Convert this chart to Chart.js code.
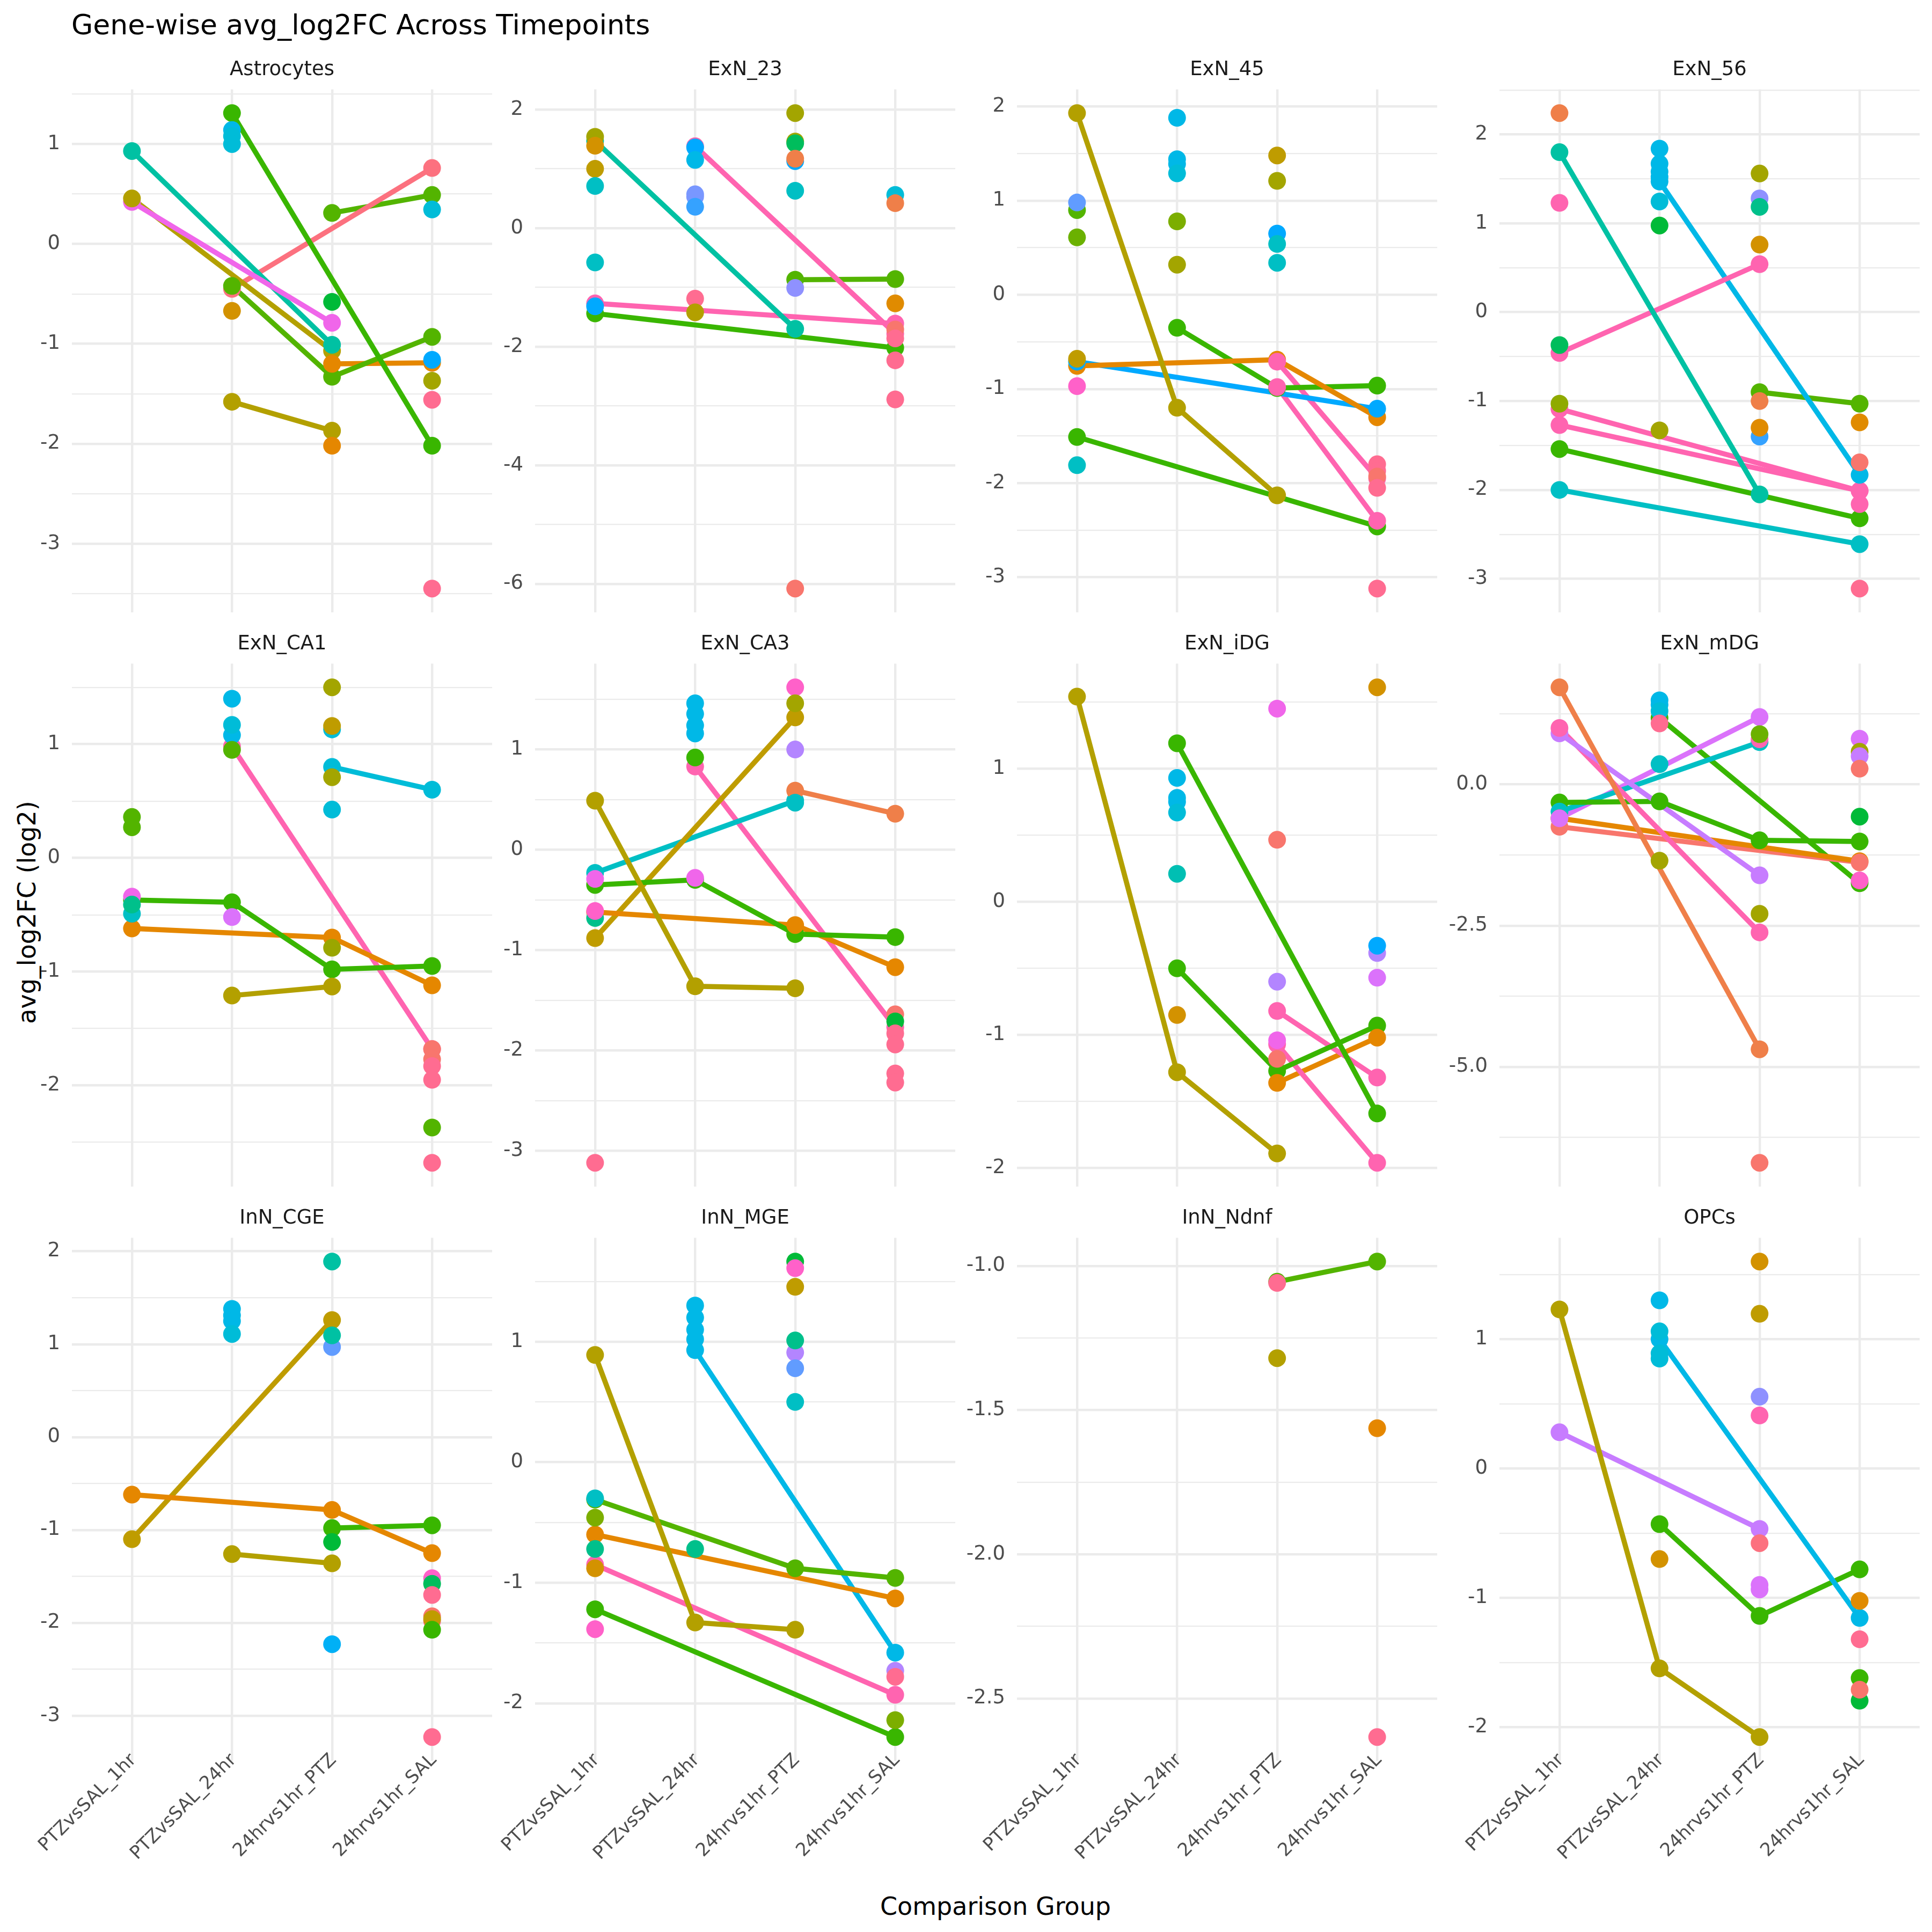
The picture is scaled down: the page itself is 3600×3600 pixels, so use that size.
<!DOCTYPE html>
<html><head><meta charset="utf-8">
<script src="https://cdn.jsdelivr.net/npm/chart.js@4.4.1/dist/chart.umd.min.js"></script>
<style>
html,body{margin:0;padding:0;background:#fff;}
#root{position:relative;width:3600px;height:3600px;overflow:hidden;background:#fff;font-family:"DejaVu Sans","Liberation Sans",sans-serif;}
#title{position:absolute;left:133px;top:20px;font-size:52px;line-height:52px;color:#000;white-space:nowrap;}
#ytitle{position:absolute;left:50px;top:1700px;font-size:46px;line-height:46px;color:#000;transform:translate(-50%,-50%) rotate(-90deg);white-space:nowrap;}
#xtitle{position:absolute;left:1855px;top:3552px;font-size:46px;line-height:46px;color:#000;transform:translate(-50%,-50%);white-space:nowrap;}
</style></head><body>
<div id="root">
  <div id="title">Gene-wise avg_log2FC Across Timepoints</div>
  <div id="ytitle">avg_log2FC (log2)</div>
  <div id="xtitle">Comparison Group</div>
</div>
<script>
// ---------------- DATA ----------------
const categories = ['PTZvsSAL_1hr', 'PTZvsSAL_24hr', '24hrvs1hr_PTZ', '24hrvs1hr_SAL'];
const panelNames = ['Astrocytes','ExN_23','ExN_45','ExN_56','ExN_CA1','ExN_CA3','ExN_iDG','ExN_mDG','InN_CGE','InN_MGE','InN_Ndnf','OPCs'];
const majorSteps = [1, 2, 1, 1, 1, 1, 1, 2.5, 1, 1, 0.5, 1];
const labelDecimals = [0, 0, 0, 0, 0, 0, 0, 1, 0, 0, 1, 0];

// gene lines: [colourKey, [1hr, 24hr, PTZ, SAL]] (null = gene absent)
// solo points: [categoryNumber, value, colourKey]
const astrocytesLines = [
  ['MG2', [0.42, null, -0.79, null]],
  ['OLV', [0.455, null, -1.07, null]],
  ['TE2', [0.93, null, -1.01, null]],
  ['GRN', [null, 1.31, null, -2.02]],
  ['SPK', [null, -0.45, null, 0.76]],
  ['GR2', [null, -0.42, -1.33, -0.93]],
  ['OLV', [null, -1.58, -1.87, null]],
  ['GR2', [null, null, 0.31, 0.49]],
  ['ORA', [null, null, -1.20, -1.19]]
];
const astrocytesPoints = [
  [2, 1.14, 'CYB'], [2, 1.08, 'CYA'], [2, 1.0, 'CYA'], [2, -0.67, 'GLD'],
  [3, -0.58, 'BGR'], [3, -2.02, 'ORA'],
  [4, 0.345, 'CYA'], [4, -1.16, 'BLU'], [4, -1.37, 'OLB'], [4, -1.56, 'PNK'], [4, -3.45, 'PNK']
];

const exn23Lines = [
  ['TE2', [1.47, null, -1.70, null]],
  ['PK2', [null, 1.38, null, -1.78]],
  ['PK2', [-1.27, null, null, -1.61]],
  ['GRN', [-1.44, null, null, -2.02]],
  ['GR2', [null, null, -0.87, -0.86]]
];
const exn23Points = [
  [1, 1.54, 'OLB'], [1, 1.39, 'GLD'], [1, 1.0, 'OG'], [1, 0.71, 'CYT'], [1, -0.58, 'CYT'], [1, -1.32, 'BLU'],
  [2, 1.36, 'BLU'], [2, 1.15, 'CYB'], [2, 0.57, 'LAV2'], [2, 0.53, 'LAV2'], [2, 0.36, 'BL3'], [2, -1.19, 'PNK'], [2, -1.42, 'OLV'],
  [3, 1.94, 'OLB'], [3, 1.46, 'OLB'], [3, 1.43, 'GTE'], [3, 1.13, 'BLU'], [3, 1.17, 'SAO'], [3, 0.63, 'CYT'], [3, -1.01, 'LAV'], [3, -6.08, 'SAL'],
  [4, 0.56, 'CYA'], [4, 0.42, 'SAO'], [4, -1.27, 'ORB'], [4, -1.71, 'SAL'], [4, -1.86, 'PNK'], [4, -2.23, 'PNK'], [4, -2.89, 'PNK']
];

const exn45Lines = [
  ['OLV', [1.93, -1.20, -2.13, null]],
  ['ORA', [-0.755, null, -0.69, -1.30]],
  ['BLU', [-0.71, null, null, -1.21]],
  ['GRN', [-1.51, null, null, -2.46]],
  ['GRN', [null, -0.35, -0.99, -0.965]],
  ['PK2', [null, null, -0.71, -1.95]],
  ['PK2', [null, null, -0.98, -2.40]]
];
const exn45Points = [
  [1, 0.90, 'GR2'], [1, 0.98, 'BL2'], [1, 0.61, 'LG2'], [1, -0.68, 'OG'], [1, -0.97, 'MGP'], [1, -1.81, 'CYT'],
  [2, 1.88, 'CYB'], [2, 1.44, 'CYB'], [2, 1.39, 'CYB'], [2, 1.29, 'CYA'], [2, 0.78, 'LG'], [2, 0.32, 'OLB'],
  [3, 1.48, 'OG'], [3, 1.21, 'OLB'], [3, 0.65, 'BLU'], [3, 0.54, 'CYT'], [3, 0.34, 'CYT'],
  [4, -1.80, 'PNK'], [4, -1.87, 'PNK'], [4, -1.93, 'SAL'], [4, -2.05, 'PNK'], [4, -3.12, 'PNK']
];

const exn56Lines = [
  ['TE2', [1.80, null, -2.05, null]],
  ['PK2', [-0.46, null, 0.54, null]],
  ['PK2', [-1.09, null, null, -2.01]],
  ['PK2', [-1.27, null, null, -2.01]],
  ['GRN', [-1.54, null, null, -2.32]],
  ['CYT', [-2.0, null, null, -2.61]],
  ['CYB', [null, 1.47, null, -1.83]],
  ['GR2', [null, null, -0.90, -1.03]]
];
const exn56Points = [
  [1, 2.24, 'SAO'], [1, 1.23, 'PK2'], [1, -0.37, 'GTE'], [1, -1.03, 'LG3'],
  [2, 1.84, 'CYB'], [2, 1.67, 'CYB'], [2, 1.58, 'CYB'], [2, 1.52, 'CYB'], [2, 1.245, 'CYA'], [2, 0.975, 'BGR'], [2, -1.33, 'OLB'],
  [3, 1.56, 'OLB'], [3, 1.28, 'LAV'], [3, 1.185, 'TEA'], [3, 0.76, 'GLD'], [3, -1.0, 'SAO'], [3, -1.40, 'BL3'], [3, -1.30, 'ORB'],
  [4, -1.24, 'ORB'], [4, -1.69, 'SAL'], [4, -2.16, 'PK2'], [4, -3.11, 'PNK']
];

const exnCA1Lines = [
  ['GRN', [-0.37, -0.39, -0.98, -0.95]],
  ['ORA', [-0.62, null, -0.70, -1.12]],
  ['PK2', [null, 0.98, null, -1.68]],
  ['OLV', [null, -1.21, -1.13, null]],
  ['CYA', [null, null, 0.80, 0.60]]
];
const exnCA1Points = [
  [1, 0.36, 'GR2'], [1, 0.27, 'GR2'], [1, -0.34, 'MG2'], [1, -0.49, 'CYT'], [1, -0.41, 'TEA'],
  [2, 1.40, 'CYB'], [2, 1.08, 'CYB'], [2, 1.17, 'CYA'], [2, 0.95, 'GR2'], [2, -0.52, 'MAG'],
  [3, 1.50, 'OLB'], [3, 1.13, 'CYA'], [3, 1.16, 'OG'], [3, 0.71, 'OLB'], [3, 0.425, 'CYA'], [3, -0.79, 'LG4'],
  [4, -1.68, 'SAL'], [4, -1.77, 'SAL'], [4, -1.83, 'PNK'], [4, -1.95, 'PNK'], [4, -2.37, 'GR2'], [4, -2.68, 'PNK']
];

const exnCA3Lines = [
  ['OLV', [0.49, -1.36, -1.38, null]],
  ['GRN', [-0.35, -0.30, -0.84, -0.87]],
  ['ORA', [-0.62, null, -0.75, -1.17]],
  ['OG', [-0.88, null, 1.32, null]],
  ['CYT', [-0.23, null, 0.49, null]],
  ['PK2', [null, 0.83, null, -1.77]],
  ['SAO', [null, null, 0.59, 0.36]]
];
const exnCA3Points = [
  [1, -0.29, 'MG2'], [1, -0.68, 'TEA'], [1, -0.61, 'MGP'], [1, -3.12, 'PNK'],
  [2, 1.46, 'CYB'], [2, 1.355, 'CYB'], [2, 1.24, 'CYB'], [2, 1.16, 'CYB'], [2, 0.92, 'GRN'], [2, -0.28, 'MG2'],
  [3, 1.62, 'MGP'], [3, 1.46, 'OLB'], [3, 1.0, 'PUR2'], [3, 0.47, 'CYT'],
  [4, -1.64, 'SAL'], [4, -1.71, 'BGR'], [4, -1.83, 'PNK'], [4, -1.94, 'PNK'], [4, -2.23, 'PNK'], [4, -2.32, 'PNK']
];

const exnIDGLines = [
  ['OLV', [1.54, -1.28, -1.89, null]],
  ['GRN', [null, 1.19, null, -1.59]],
  ['GRN', [null, -0.50, -1.27, -0.93]],
  ['PK2', [null, null, -0.82, -1.32]],
  ['PK2', [null, null, -1.07, -1.96]],
  ['ORA', [null, null, -1.36, -1.02]]
];
const exnIDGPoints = [
  [2, 0.93, 'CYB'], [2, 0.78, 'CYB'], [2, 0.75, 'CYB'], [2, 0.67, 'CYA'], [2, 0.21, 'TE3'], [2, -0.85, 'GLD'],
  [3, 1.45, 'MG2'], [3, 0.465, 'SAL'], [3, -0.60, 'PUR2'], [3, -1.04, 'MG2'], [3, -1.18, 'SAL'],
  [4, 1.61, 'GLD'], [4, -0.385, 'PUR2'], [4, -0.33, 'BLU'], [4, -0.57, 'MAG']
];

const exnMDGLines = [
  ['SAO', [1.72, null, -4.69, null]],
  ['PUR', [0.905, null, -1.61, null]],
  ['PK2', [1.0, null, -2.62, null]],
  ['GRN', [-0.32, -0.30, -0.99, -1.01]],
  ['CYT', [-0.48, null, 0.75, null]],
  ['ORA', [-0.60, null, null, -1.36]],
  ['SAL', [-0.75, null, null, -1.38]],
  ['MAG', [-0.60, null, 1.195, null]],
  ['GRN', [null, 1.18, null, -1.75]]
];
const exnMDGPoints = [
  [2, 1.49, 'CYB'], [2, 1.41, 'CYB'], [2, 1.30, 'CYA'], [2, 1.08, 'PNK'], [2, 0.36, 'CYT'], [2, -1.35, 'OLB'],
  [3, 0.80, 'PK2'], [3, 0.89, 'LG2'], [3, -2.29, 'OLB'], [3, -6.70, 'SAL'],
  [4, 0.81, 'MAG'], [4, 0.58, 'OLB'], [4, 0.50, 'PUR'], [4, 0.28, 'SAL'], [4, -0.57, 'BGR'], [4, -1.70, 'MGP']
];

const innCGELines = [
  ['ORA', [-0.62, null, -0.785, -1.25]],
  ['OG', [-1.10, null, 1.26, null]],
  ['OLV', [null, -1.26, -1.36, null]],
  ['GRN', [null, null, -0.98, -0.95]]
];
const innCGEPoints = [
  [2, 1.38, 'CYB'], [2, 1.31, 'CYB'], [2, 1.25, 'CYB'], [2, 1.11, 'CYA'],
  [3, 1.89, 'TE2'], [3, 0.97, 'BL2'], [3, 1.095, 'TE2'], [3, -1.13, 'BGR'], [3, -2.23, 'BLC'],
  [4, -1.52, 'MGP'], [4, -1.58, 'GTE'], [4, -1.70, 'PNK'], [4, -1.93, 'SAL'], [4, -1.98, 'PNK'], [4, -1.96, 'OG'], [4, -2.075, 'GRN'], [4, -3.23, 'PNK']
];

const innMGELines = [
  ['OLV', [0.89, -1.33, -1.39, null]],
  ['GR2', [-0.31, null, -0.88, -0.96]],
  ['ORA', [-0.60, null, null, -1.13]],
  ['PK2', [-0.85, null, null, -1.93]],
  ['GRN', [-1.22, null, null, -2.28]],
  ['CYB', [null, 0.93, null, -1.58]]
];
const innMGEPoints = [
  [1, -0.30, 'CYT'], [1, -0.46, 'LG'], [1, -0.72, 'TEA'], [1, -0.88, 'GLD'], [1, -1.385, 'MGP'],
  [2, 1.30, 'CYB'], [2, 1.20, 'CYB'], [2, 1.10, 'CYB'], [2, 1.02, 'CYB'], [2, -0.72, 'TEA'],
  [3, 1.665, 'BGR'], [3, 1.61, 'MGP'], [3, 1.455, 'OG'], [3, 0.91, 'PUR2'], [3, 1.01, 'TEA'], [3, 0.78, 'BL2'], [3, 0.50, 'CYT'],
  [4, -1.73, 'PUR2'], [4, -1.78, 'PNK'], [4, -2.14, 'LG']
];

const innNdnfLines = [
  ['GR2', [null, null, -1.055, -0.985]]
];
const innNdnfPoints = [
  [3, -1.059, 'PNK'], [3, -1.32, 'OLV'], [4, -1.563, 'ORA'], [4, -2.634, 'PNK']
];

const opcsLines = [
  ['OLV', [1.23, -1.545, -2.076, null]],
  ['PUR', [0.28, null, -0.467, null]],
  ['CYB', [null, 1.0, null, -1.155]],
  ['GRN', [null, -0.43, -1.14, -0.78]]
];
const opcsPoints = [
  [2, 1.30, 'CYB'], [2, 1.06, 'CYA'], [2, 0.89, 'CYA'], [2, 0.85, 'CYA'], [2, -0.70, 'GLD'],
  [3, 1.60, 'GLD'], [3, 1.196, 'OG'], [3, 0.555, 'LAV'], [3, 0.41, 'PK2'], [3, -0.577, 'SPK'], [3, -0.90, 'MAG'], [3, -0.935, 'MAG'],
  [4, -1.023, 'ORB'], [4, -1.32, 'PNK'], [4, -1.62, 'GRN'], [4, -1.795, 'BGR'], [4, -1.71, 'SAL']
];

const panelLines = [astrocytesLines, exn23Lines, exn45Lines, exn56Lines, exnCA1Lines, exnCA3Lines, exnIDGLines, exnMDGLines, innCGELines, innMGELines, innNdnfLines, opcsLines];
const panelPoints = [astrocytesPoints, exn23Points, exn45Points, exn56Points, exnCA1Points, exnCA3Points, exnIDGPoints, exnMDGPoints, innCGEPoints, innMGEPoints, innNdnfPoints, opcsPoints];

// ---------------- STYLE ----------------
const COL = {
  SAL:'#F8766D', SPK:'#FC717F', SAO:'#EF7F49', ORA:'#E58700', ORB:'#E08B00', GLD:'#D39200',
  OG:'#BF9C00', OLV:'#B3A000', OLB:'#A3A500', LG3:'#8FAA00', LG4:'#9AA600', LG:'#7CAE00', LG2:'#6BB100',
  GR2:'#53B400', GRN:'#39B600', BGR:'#00BA38', GTE:'#00BD5C', TEA:'#00C08B', TE2:'#00C1A3', TE3:'#00BFB3',
  CYT:'#00BFC4', CYA:'#00BCD8', CYB:'#00B8E7', BLC:'#00B0F6', BLU:'#00A9FF', BL3:'#35A2FF', BL2:'#619CFF',
  LAV2:'#7997FF', LAV:'#8F91FF', PUR2:'#B385FF', PUR:'#C77CFF', MAG:'#DB72FB', MG2:'#F066EA',
  MGP:'#FF61C9', PK2:'#FF64B0', PNK:'#FF6C91'
};
const FONT = '"DejaVu Sans", "Liberation Sans", sans-serif';
const AXW = 200, STRIP = 72, XH = 280, PANEL_W = 783, PANEL_H = 975;
const COL_LEFT = [134, 997, 1895, 2794];
const ROW_TOP = [166, 1236, 2306];
const XFONT = 34;

const root = document.getElementById('root');

function makePanel(i) {
  const name = panelNames[i], lines = panelLines[i], solo = panelPoints[i];
  const major = majorSteps[i], minor = major / 2, dec = labelDecimals[i];
  const col = i % 4, row = Math.floor(i / 4), bottom = row === 2;
  const W = AXW + PANEL_W, H = STRIP + PANEL_H + (bottom ? XH : 0);
  const cv = document.createElement('canvas');
  cv.width = W; cv.height = H;
  cv.style.cssText = 'position:absolute;left:' + (COL_LEFT[col] - AXW) + 'px;top:' + (ROW_TOP[row] - STRIP) + 'px;width:' + W + 'px;height:' + H + 'px;';
  root.appendChild(cv);

  const pts = [];
  lines.forEach(([c, vals]) => vals.forEach((v, k) => { if (v !== null) pts.push({x: k + 1, y: v, c}); }));
  solo.forEach(([x, y, c]) => pts.push({x, y, c}));
  const ys = pts.map(p => p.y);
  const lo = Math.min(...ys), hi = Math.max(...ys), pad = (hi - lo) * 0.05;

  const datasets = [{
    type: 'scatter',
    data: pts.map(p => ({x: p.x, y: p.y})),
    pointBackgroundColor: pts.map(p => COL[p.c]),
    pointBorderWidth: 0, pointRadius: 16.5, pointHoverRadius: 16.5,
    showLine: false, order: 1, clip: false
  }];
  lines.forEach(([c, vals]) => datasets.push({
    type: 'line',
    data: vals.map((v, k) => v === null ? null : {x: k + 1, y: v}).filter(Boolean),
    borderColor: COL[c], borderWidth: 9.5, pointRadius: 0, pointHoverRadius: 0,
    fill: false, tension: 0, borderJoinStyle: 'round', order: 2, clip: false
  }));

  const isMajor = v => Math.abs(v / major - Math.round(v / major)) < 1e-6;

  new Chart(cv, {
    type: 'scatter',
    data: {datasets},
    options: {
      responsive: false, animation: false, devicePixelRatio: 1, events: [],
      layout: {padding: 0, autoPadding: false},
      plugins: {
        legend: {display: false},
        tooltip: {enabled: false},
        title: {display: true, text: name, fullSize: false, color: '#1A1A1A',
                font: {family: FONT, size: 37, weight: 'normal', lineHeight: 1.2},
                padding: {top: 14, bottom: 14}}
      },
      scales: {
        x: {
          type: 'linear', min: 0.4, max: 4.6, bounds: 'data',
          afterBuildTicks: s => { s.ticks = categories.map((_, k) => ({value: k + 1})); },
          ticks: {display: bottom, autoSkip: false, maxRotation: 45, minRotation: 45, padding: -21,
                  labelOffset: 3,
                  color: '#4D4D4D', font: {family: FONT, size: XFONT},
                  callback: v => categories[Math.round(v) - 1]},
          grid: {color: '#EBEBEB', lineWidth: 4.4, drawTicks: false},
          border: {display: false},
          afterFit: s => {
            s.height = bottom ? XH : 0; s.paddingLeft = 0; s.paddingRight = 0;
            s._computeLabelArea = () => undefined;   // do not clip rotated labels to the axis box
          }
        },
        y: {
          type: 'linear', min: lo - pad, max: hi + pad, bounds: 'data',
          afterBuildTicks: s => {
            const t = [];
            const k0 = Math.ceil(s.min / minor - 1e-9), k1 = Math.floor(s.max / minor + 1e-9);
            for (let k = k0; k <= k1; k++) t.push({value: k * minor});
            s.ticks = t;
          },
          ticks: {autoSkip: false, padding: 22, color: '#4D4D4D', font: {family: FONT, size: 37},
                  callback: v => isMajor(v) ? (dec ? v.toFixed(dec) : String(Math.round(v))) : ''},
          grid: {color: '#EBEBEB', lineWidth: ctx => (ctx.tick && isMajor(ctx.tick.value)) ? 4.4 : 2.2, drawTicks: false},
          border: {display: false},
          afterFit: s => { s.width = AXW; s.paddingTop = 0; s.paddingBottom = 0; }
        }
      }
    }
  });
}

for (let i = 0; i < panelNames.length; i++) makePanel(i);
</script>
</body></html>
